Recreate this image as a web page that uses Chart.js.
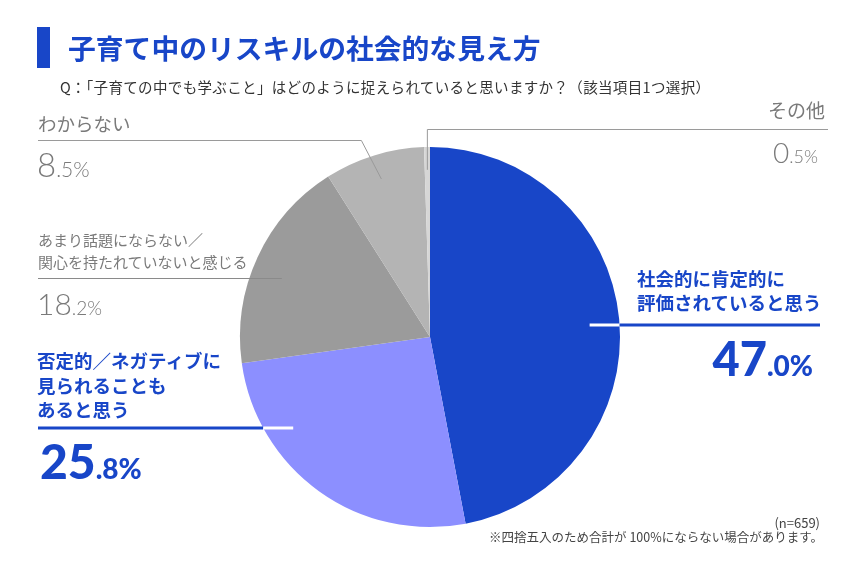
<!DOCTYPE html>
<html lang="ja">
<head>
<meta charset="utf-8">
<script src="https://cdn.jsdelivr.net/npm/chart.js@4"></script>
<style>
  html, body { margin: 0; padding: 0; background: #fff; }
  #wrap {
    position: relative; width: 860px; height: 582px; overflow: hidden;
    font-family: "Noto Sans CJK JP", "Noto Sans", sans-serif; background: #fff;
  }
  #chart { position: absolute; left: 0; top: 0; }
  .t { position: absolute; white-space: nowrap; }
  .bar { position: absolute; left: 37px; top: 27px; width: 13px; height: 41px; background: #1846c8; }
  .title { left: 68px; top: 30px; font-size: 27.8px; font-weight: 700; color: #1846c8; line-height: 34px; }
  .sub { left: 60px; top: 77px; font-size: 14.5px; letter-spacing: 0.35px; color: #333; line-height: 20px; }
  .gray { color: #7a7a7a; }
  .blue { color: #1846c8; font-weight: 700; }
  .numg { font-family: Lato, sans-serif; font-weight: 300; color: #7a7a7a; line-height: 1; }
  .numb { font-family: Lato, sans-serif; font-weight: 900; color: #1846c8; line-height: 1; }
  .note { font-size: 12.5px; color: #444; line-height: 16px; text-align: right; }
</style>
</head>
<body>
<div id="wrap">
  <canvas id="chart" width="860" height="582"></canvas>
  <div class="bar"></div>
  <div class="t title">子育て中のリスキルの社会的な見え方</div>
  <div class="t sub">Q：「子育ての中でも学ぶこと」はどのように捉えられていると思いますか？（該当項目1つ選択）</div>

  <div class="t gray" id="lbl3" style="left:38px;top:110px;font-size:18.5px;line-height:26px;"></div>
  <div class="t numg" id="val3" style="left:37px;top:148px;"></div>

  <div class="t gray" id="lbl2" style="left:38px;top:229px;font-size:15px;line-height:22px;"></div>
  <div class="t numg" id="val2" style="left:37px;top:288px;"></div>

  <div class="t gray" id="lbl4" style="right:35px;top:97px;font-size:19px;line-height:26px;text-align:right;"></div>
  <div class="t numg" id="val4" style="right:42px;top:138px;text-align:right;"></div>

  <div class="t blue" id="lbl1" style="left:37px;top:348px;font-size:18.5px;line-height:24.5px;"></div>
  <div class="t numb" id="val1" style="left:40px;top:437px;"></div>

  <div class="t blue" id="lbl0" style="left:637px;top:266px;font-size:18.5px;line-height:24px;"></div>
  <div class="t numb" id="val0" style="right:47px;top:335px;text-align:right;"></div>

  <div class="t note" style="right:40px;top:515px;font-size:13px;">(n=659)</div>
  <div class="t note" style="right:37px;top:529px;">※四捨五入のため合計が 100%にならない場合があります。</div>
</div>
<script>
// 回答の選択肢（時計回り、上から）
const categories = [
  "社会的に肯定的に\n評価されていると思う",
  "否定的／ネガティブに\n見られることも\nあると思う",
  "あまり話題にならない／\n関心を持たれていないと感じる",
  "わからない",
  "その他"
];
const percents = [47.0, 25.8, 18.2, 8.5, 0.5];
const sliceColors = ["#1846c8", "#8c8fff", "#9b9b9b", "#b4b4b4", "#d6d6d6"];

// ラベル文字と数値（整数部は大きく、小数部は小さく）
const bigSize = [47, 48, 30, 33, 28];
const smallSize = [28, 28, 19, 21, 18];
percents.forEach((v, i) => {
  document.getElementById("lbl" + i).innerHTML = categories[i].split("\n").join("<br>");
  const [a, b] = v.toFixed(1).split(".");
  document.getElementById("val" + i).innerHTML =
    `<span style="font-size:${bigSize[i]}px">${a}</span><span style="font-size:${smallSize[i]}px">.${b}%</span>`;
});

// 引き出し線
const leaderLines = {
  id: "leaderLines",
  afterDraw(chart) {
    const ctx = chart.ctx;
    const arcs = chart.getDatasetMeta(0).data;
    const cx = arcs[0].x, cy = arcs[0].y, r = arcs[0].outerRadius;
    const mid = (a, f) => {
      const m = (a.startAngle + a.endAngle) / 2;
      return { x: a.x + Math.cos(m) * a.outerRadius * f, y: a.y + Math.sin(m) * a.outerRadius * f };
    };
    const edgeX = (y, side) => cx + side * Math.sqrt(r * r - (y - cy) * (y - cy));
    const seg = (pts, color, w) => {
      ctx.beginPath();
      ctx.moveTo(pts[0][0], pts[0][1]);
      pts.slice(1).forEach(p => ctx.lineTo(p[0], p[1]));
      ctx.strokeStyle = color; ctx.lineWidth = w; ctx.stroke();
    };
    ctx.save();
    ctx.lineCap = "butt";

    // わからない
    const p3 = mid(arcs[3], 0.87);
    seg([[38, 140.5], [p3.x - 20, 140.5], [p3.x, p3.y]], "#9a9a9a", 1);
    // その他
    const p4 = mid(arcs[4], 0.88);
    seg([[p4.x, p4.y], [p4.x, 129.5], [828, 129.5]], "#9a9a9a", 1);
    // あまり話題にならない
    seg([[38, 278.5], [cx - r * 0.78, 278.5]], "#8a8a8a", 1);
    // 否定的
    const e1 = edgeX(428, -1);
    seg([[38, 428], [e1, 428]], "#1846c8", 3);
    seg([[e1, 428], [e1 + 30, 428]], "#ffffff", 3);
    // 肯定的
    const e0 = edgeX(325, 1);
    seg([[e0 - 30, 325], [e0, 325]], "#ffffff", 3);
    seg([[e0, 325], [820, 325]], "#1846c8", 3);
    ctx.restore();
  }
};

new Chart(document.getElementById("chart"), {
  type: "pie",
  data: {
    labels: categories,
    datasets: [{
      data: percents,
      backgroundColor: sliceColors,
      borderWidth: 0
    }]
  },
  options: {
    responsive: false,
    animation: false,
    events: [],
    layout: { padding: { left: 240, right: 240, top: 147, bottom: 55 } },
    plugins: {
      legend: { display: false },
      tooltip: { enabled: false }
    }
  },
  plugins: [leaderLines]
});
</script>
</body>
</html>
